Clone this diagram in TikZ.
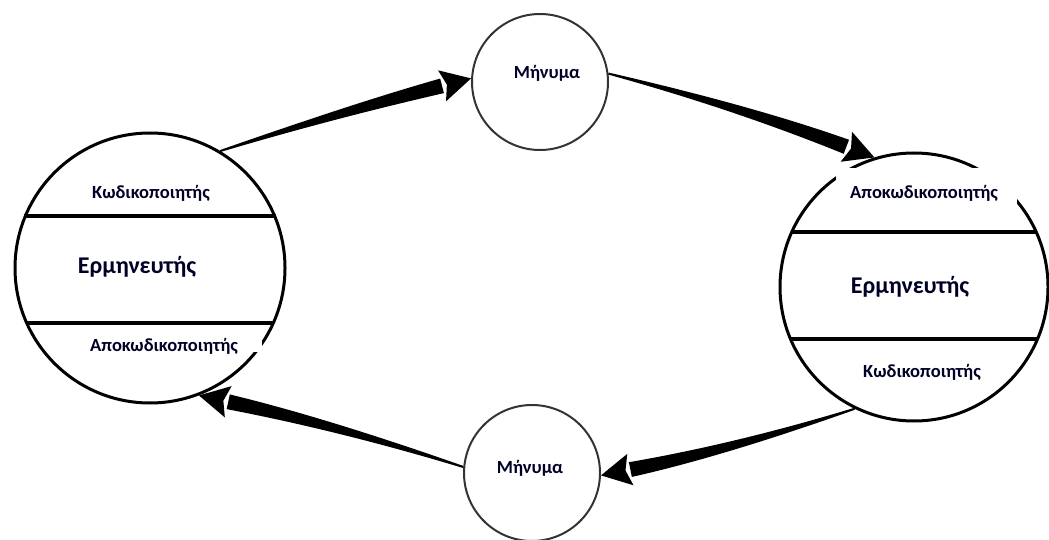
\documentclass[tikz,border=0pt]{standalone}
\usepackage{fontspec}
\setmainfont{Carlito}
\usetikzlibrary{calc}
\tikzset{
  bigcircle/.style={circle,draw=black,line width=3pt,minimum size=270pt,inner sep=0pt},
  msgcircle/.style={circle,draw=black!80,line width=2pt,minimum size=136pt,inner sep=0pt},
  divider/.style={line width=3.2pt,black},
  smalllabel/.style={font=\bfseries\fontsize{18.5}{20}\selectfont,text=black!85!blue,inner sep=0pt},
  biglabel/.style={font=\bfseries\fontsize{24}{27}\selectfont,text=black!85!blue,inner sep=0pt},
  gapbox/.style={fill=white,draw=none},
  arrowfill/.style={fill=black,draw=none}
}
% #1 start, #2 tip, #3 bend spec (dist!angle), #4 prefix
\newcommand\taperarrow[4]{%
  \coordinate (#4m) at ($(#1)!0.5!(#2)$);
  \coordinate (#4c) at ($(#4m)!#3:(#2)$);
  \coordinate (#4h) at ($(#2)!30pt!(#4c)$);
  \coordinate (#4p) at ($(#1)!0.667!(#4c)$);
  \coordinate (#4q) at ($(#4h)!0.667!(#4c)$);
  \fill[arrowfill] ($(#1)!1pt!90:(#2)$)
     .. controls ($(#4p)!3pt!90:(#2)$) and ($(#4q)!5.8pt!90:(#2)$) .. ($(#4h)!7.5pt!90:(#2)$)
     -- ($(#4h)!7.5pt!-90:(#2)$)
     .. controls ($(#4q)!5.8pt!-90:(#2)$) and ($(#4p)!3pt!-90:(#2)$) .. ($(#1)!1pt!-90:(#2)$) -- cycle;
  \fill[arrowfill] (#2) -- ($(#4h)!16pt!-90:(#2)$) -- ($(#4h)!5pt!(#2)$) -- ($(#4h)!16pt!90:(#2)$) -- cycle;
}
\begin{document}
\begin{tikzpicture}[x=1pt,y=-1pt]
\useasboundingbox (0,0) rectangle (1049,540);
\fill[white] (0,0) rectangle (1049,540);

% circles
\node[bigcircle] (L) at (150,268) {};
\node[bigcircle,minimum size=268pt] (R) at (914,287) {};
\node[msgcircle] (M1) at (540,82) {};
\node[msgcircle] (M2) at (532,473) {};

% dividers
\draw[divider] ($(L)+(-125.7,-52)$) -- ($(L)+(125.7,-52)$);
\draw[divider] ($(L)+(-124.4,55)$) -- ($(L)+(124.4,55)$);
\draw[divider] ($(R)+(-122.2,-55)$) -- ($(R)+(122.2,-55)$);
\draw[divider] ($(R)+(-123.5,52)$) -- ($(R)+(123.5,52)$);

% white label patches covering circle outline
\fill[gapbox] (70,331) rectangle (262,352);
\fill[gapbox] (836,168) rectangle (1017,212);

% labels
\node[smalllabel] (l1) at (151,193) {Κωδικοποιητής};
\node[biglabel]   (l2) at (137,267) {Ερμηνευτής};
\node[smalllabel] (l3) at (164,346) {Αποκωδικοποιητής};
\node[smalllabel] (r1) at (924,193) {Αποκωδικοποιητής};
\node[biglabel]   (r2) at (910,287) {Ερμηνευτής};
\node[smalllabel] (r3) at (922,372) {Κωδικοποιητής};
\node[smalllabel] (t1) at (547,73) {Μήνυμα};
\node[smalllabel] (t2) at (530,468) {Μήνυμα};

% arrows
\taperarrow{L.59}{M1.177}{4pt!90}{a}
\taperarrow{M1.7}{R.107}{8pt!90}{b}
\taperarrow{R.244}{M2.358}{8pt!90}{c}
\taperarrow{M2.175}{L.291}{7pt!-90}{d}
\end{tikzpicture}
\end{document}
